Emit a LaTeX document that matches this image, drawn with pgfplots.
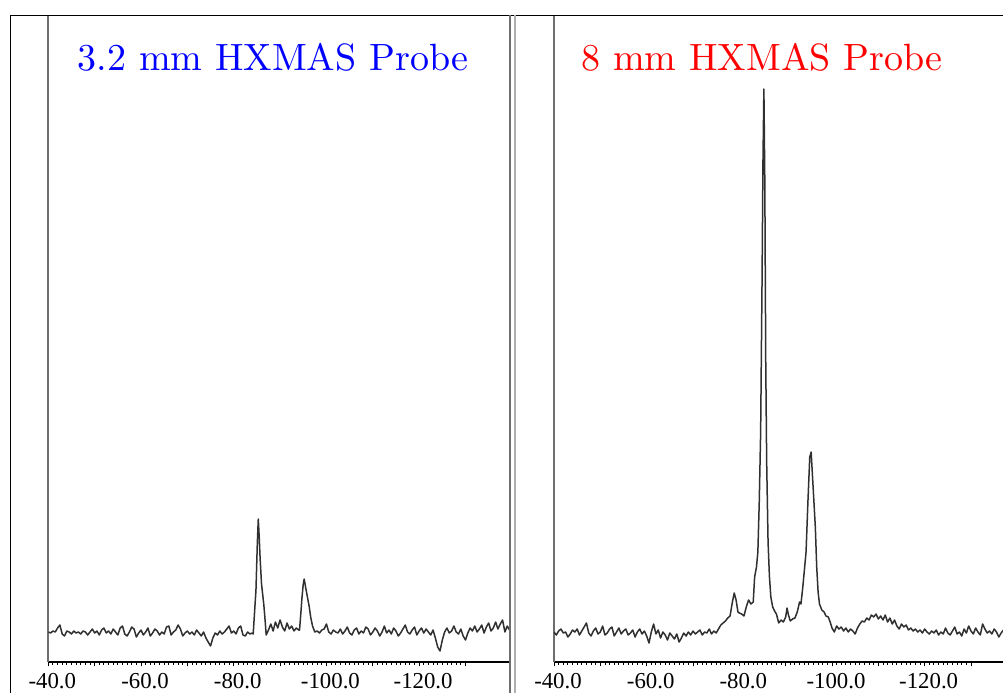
\documentclass[border=0pt]{standalone}
\usepackage{fontspec}
\newfontfamily\tickfont{Liberation Serif}
\newfontfamily\titlefont{lmroman10-regular}[Extension=.otf]
\usepackage{pgfplots}
\pgfplotsset{compat=1.18}
\definecolor{spec}{HTML}{303030}
\definecolor{frame}{HTML}{6E6E6E}

% one style for both spectra panels (x in ppm, y in raw intensity units)
\pgfplotsset{nmr/.style={
  scale only axis, height=323.5pt,
  x dir=reverse,
  ymin=0, ymax=647,
  axis x line*=bottom, axis y line*=left,
  x axis line style={-, black, line width=0.55pt},
  y axis line style={-, frame, line width=0.8pt},
  xtick={-40,-50,...,-130},
  xticklabels={-40.0,,-60.0,,-80.0,,-100.0,,-120.0,},
  minor x tick num=9,
  tick align=outside,
  major tick length=2.2pt, minor tick length=1.3pt,
  tick style={black, line width=0.45pt},
  ytick=\empty,
  xticklabel style={font=\tickfont\fontsize{11.4}{13}\selectfont, xshift=2pt},
}}

\begin{document}
\begin{tikzpicture}[x=0.5pt,y=0.5pt]
\path[use as bounding box] (0,0) rectangle (1003,693);

% left: 3.2 mm probe
\begin{axis}[nmr, at={(24.15pt,15.5pt)}, anchor=south west, width=230.85pt,
  xmin=-139.6, xmax=-40]
\addplot[spec, line width=0.75pt, no markers, line join=round] coordinates {
(-40.0,30)(-40.5,29)(-41.0,31)(-41.5,30)(-42.0,34)(-42.5,37)(-43.0,28)(-43.5,26)
(-44.0,31)(-44.5,30)(-45.0,28)(-45.5,31)(-46.0,29)(-46.5,30)(-47.0,28)(-47.5,31)
(-48.0,30)(-48.5,27)(-49.0,30)(-49.5,33)(-50.0,29)(-50.5,31)(-51.0,27)(-51.5,32)
(-52.0,34)(-52.5,29)(-53.0,31)(-53.5,28)(-54.0,33)(-54.5,30)(-55.0,27)(-55.5,34)
(-56.0,36)(-56.5,28)(-57.0,26)(-57.5,30)(-58.0,35)(-58.5,33)(-59.0,25)(-59.5,29)
(-60.0,32)(-60.5,27)(-61.0,30)(-61.5,34)(-62.0,26)(-62.5,29)(-63.0,33)(-63.5,31)
(-64.0,27)(-64.5,30)(-65.0,28)(-65.5,35)(-66.0,36)(-66.5,27)(-67.0,30)(-67.5,32)
(-68.0,37)(-68.5,33)(-69.0,26)(-69.5,29)(-70.0,31)(-70.5,28)(-71.0,30)(-71.5,27)
(-72.0,32)(-72.5,29)(-73.0,26)(-73.5,30)(-74.0,24)(-74.5,20)(-75.0,16)(-75.5,24)
(-76.0,29)(-76.5,27)(-77.0,31)(-77.5,28)(-78.0,30)(-78.5,33)(-79.0,36)(-79.5,29)
(-80.0,31)(-80.5,28)(-81.0,34)(-81.5,36)(-82.0,27)(-82.5,26)(-83.0,30)(-83.5,28)
(-84.0,29)(-84.2,28)(-84.5,50)(-84.8,72)(-85.1,120)(-85.3,143)(-85.5,125)(-85.7,103)
(-86.0,78)(-86.5,57)(-86.8,40)(-87.0,27)(-87.5,32)(-88.0,38)(-88.5,31)(-89.0,40)
(-89.5,34)(-90.0,42)(-90.5,35)(-91.0,31)(-91.5,39)(-92.0,33)(-92.5,36)(-93.0,31)
(-93.5,34)(-94.0,32)(-94.2,32)(-94.5,50)(-94.7,63)(-95.0,78)(-95.2,83)(-95.5,75)
(-95.9,65)(-96.3,55)(-96.6,45)(-97.0,36)(-97.5,30)(-98.0,31)(-98.5,29)(-99.0,32)
(-99.5,33)(-100.0,38)(-100.5,30)(-101.0,28)(-101.5,32)(-102.0,30)(-102.5,29)(-103.0,33)
(-103.5,28)(-104.0,31)(-104.5,35)(-105.0,29)(-105.5,27)(-106.0,32)(-106.5,34)(-107.0,28)
(-107.5,31)(-108.0,29)(-108.5,35)(-109.0,33)(-109.5,27)(-110.0,30)(-110.5,34)(-111.0,31)
(-111.5,26)(-112.0,30)(-112.5,36)(-113.0,29)(-113.5,32)(-114.0,28)(-114.5,34)(-115.0,31)
(-115.5,26)(-116.0,29)(-116.5,33)(-117.0,37)(-117.5,30)(-118.0,28)(-118.5,32)(-119.0,35)
(-119.5,27)(-120.0,31)(-120.5,34)(-121.0,29)(-121.5,33)(-122.0,30)(-122.5,27)(-123.0,32)
(-123.5,24)(-124.0,15)(-124.5,11)(-125.0,22)(-125.5,30)(-126.0,34)(-126.5,29)(-127.0,31)
(-127.5,36)(-128.0,30)(-128.5,28)(-129.0,33)(-129.5,26)(-130.0,22)(-130.5,29)(-131.0,34)
(-131.5,31)(-132.0,36)(-132.5,30)(-133.0,33)(-133.5,37)(-134.0,29)(-134.5,35)(-135.0,39)
(-135.5,31)(-136.0,34)(-136.5,40)(-137.0,33)(-137.5,38)(-138.0,42)(-138.5,30)(-139.0,36)
(-139.5,32)
};
\end{axis}

% right: 8 mm probe
\begin{axis}[nmr, at={(277pt,15.5pt)}, anchor=south west, width=224.5pt,
  xmin=-136.9, xmax=-40]
\addplot[spec, line width=0.75pt, no markers, line join=round] coordinates {
(-40.0,30)(-40.5,27)(-41.0,31)(-41.5,33)(-42.0,29)(-42.5,30)(-43.0,25)(-43.5,28)
(-44.0,32)(-44.5,30)(-45.0,33)(-45.5,27)(-46.0,31)(-46.5,35)(-47.0,39)(-47.5,29)
(-48.0,26)(-48.5,31)(-49.0,34)(-49.5,28)(-50.0,30)(-50.5,36)(-51.0,27)(-51.5,29)
(-52.0,33)(-52.5,35)(-53.0,26)(-53.5,30)(-54.0,34)(-54.5,28)(-55.0,31)(-55.5,33)
(-56.0,27)(-56.5,29)(-57.0,32)(-57.5,25)(-58.0,30)(-58.5,33)(-59.0,28)(-59.5,31)
(-60.0,26)(-60.5,19)(-61.0,30)(-61.5,38)(-62.0,28)(-62.5,32)(-63.0,24)(-63.5,30)
(-64.0,27)(-64.5,22)(-65.0,29)(-65.5,26)(-66.0,23)(-66.5,28)(-67.0,20)(-67.5,24)
(-68.0,29)(-68.5,26)(-69.0,30)(-69.5,27)(-70.0,31)(-70.5,28)(-71.0,30)(-71.5,32)
(-72.0,27)(-72.5,30)(-73.0,29)(-73.5,33)(-74.0,28)(-74.5,31)(-75.0,29)(-75.5,33)
(-76.0,37)(-76.5,39)(-77.0,41)(-77.5,44)(-78.0,46)(-78.5,60)(-78.9,69)(-79.3,62)
(-79.7,50)(-80.0,49)(-80.5,48)(-81.0,46)(-81.5,55)(-82.0,62)(-82.5,58)(-83.0,60)
(-83.3,85)(-83.7,95)(-84.0,110)(-84.3,160)(-84.6,230)(-84.9,380)(-85.1,500)(-85.3,573)
(-85.5,480)(-85.7,300)(-85.9,200)(-86.2,120)(-86.5,85)(-86.8,65)(-87.2,55)(-87.6,51)
(-88.0,48)(-88.5,39)(-89.0,42)(-89.5,40)(-90.0,45)(-90.3,54)(-90.6,47)(-91.0,41)
(-91.5,43)(-92.0,44)(-92.5,50)(-93.0,60)(-93.3,58)(-93.7,75)(-94.0,90)(-94.4,110)
(-94.8,160)(-95.2,205)(-95.5,210)(-95.8,185)(-96.1,160)(-96.4,135)(-96.7,95)(-97.0,70)
(-97.3,58)(-97.8,52)(-98.3,50)(-98.7,46)(-99.2,45)(-99.6,40)(-100.0,34)(-100.5,30)
(-101.0,36)(-101.5,33)(-102.0,35)(-102.5,31)(-103.0,34)(-103.5,30)(-104.0,33)(-104.5,31)
(-105.0,28)(-105.5,34)(-106.0,38)(-106.5,41)(-107.0,40)(-107.5,44)(-108.0,42)(-108.5,47)
(-109.0,45)(-109.5,48)(-110.0,43)(-110.5,46)(-111.0,42)(-111.5,47)(-112.0,40)(-112.5,44)
(-113.0,38)(-113.5,42)(-114.0,36)(-114.5,33)(-115.0,38)(-115.5,35)(-116.0,37)(-116.5,32)
(-117.0,34)(-117.5,31)(-118.0,33)(-118.5,30)(-119.0,32)(-119.5,29)(-120.0,33)(-120.5,30)
(-121.0,28)(-121.5,31)(-122.0,29)(-122.5,32)(-123.0,27)(-123.5,30)(-124.0,28)(-124.5,34)
(-125.0,29)(-125.5,27)(-126.0,31)(-126.5,35)(-127.0,28)(-127.5,30)(-128.0,26)(-128.5,33)
(-129.0,29)(-129.5,36)(-130.0,31)(-130.5,28)(-131.0,34)(-131.5,30)(-132.0,27)(-132.5,38)
(-133.0,33)(-133.5,29)(-134.0,31)(-134.5,28)(-135.0,33)(-135.5,30)(-136.0,25)(-136.5,29)
(-137.0,32)
};
\end{axis}

% window frame and panel separators
\draw[black, line width=0.5pt] (10,0) -- (10,678) -- (1003,678);
\draw[frame, line width=0.7pt] (510,0) -- (510,678);
\draw[frame!55, line width=0.7pt] (515,0) -- (515,678);

\node[anchor=base, text=blue, font=\titlefont\fontsize{19}{22}\selectfont] at (273,623) {3.2 mm HXMAS Probe};
\node[anchor=base, text=red, font=\titlefont\fontsize{19}{22}\selectfont] at (762,623) {8 mm HXMAS Probe};
\end{tikzpicture}
\end{document}
